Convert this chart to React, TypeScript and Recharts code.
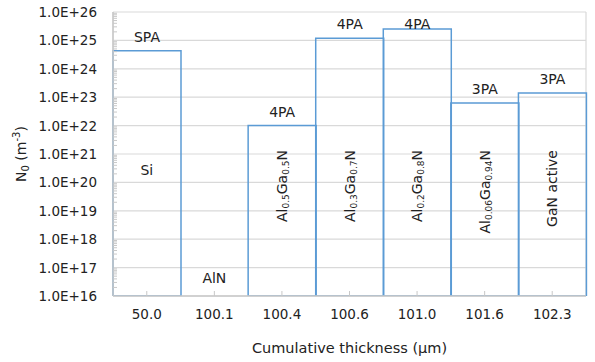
import React from 'react';
import { BarChart, Bar, XAxis, YAxis, CartesianGrid, LabelList, Label } from 'recharts';

// cumulative thickness of each layer (category labels), µm
const thickness = ['50.0', '100.1', '100.4', '100.6', '101.0', '101.6', '102.3'];
// N0 per layer, m^-3
const density = [4.3e24, 1e16, 1e22, 1.2e25, 2.5e25, 6.3e22, 1.4e23];
// process label above each bar
const process = ['SPA', '', '4PA', '4PA', '4PA', '3PA', '3PA'];
// layer name drawn inside each bar
const layer = ['Si', 'AlN', 'Al0.5Ga0.5N', 'Al0.3Ga0.7N', 'Al0.2Ga0.8N', 'Al0.06Ga0.94N', 'GaN active'];
const decades = [1e16, 1e17, 1e18, 1e19, 1e20, 1e21, 1e22, 1e23, 1e24, 1e25, 1e26];
const minorSteps = [2, 3, 4, 5, 6, 7, 8, 9];

const yTicks = [
  ...decades,
  ...decades.slice(0, -1).flatMap((d) => minorSteps.map((m) => d * m)),
].sort((a, b) => a - b);

const data = thickness.map((t, i) => ({
  thickness: t,
  density: density[i],
  process: process[i],
  layer: layer[i],
}));

const FONT = '"DejaVu Sans", sans-serif';
const TEXT = '#222';
const GRID = '#d9d9d9';
const AXIS = '#c8c8c8';
const BLUE = '#5B9BD5';
const X_TICK_MARGIN = 18;
const Y_TICK_MARGIN = 16;

const isDecade = (v: number) => Math.abs(Math.log10(v) - Math.round(Math.log10(v))) < 1e-9;

const renderYTick = (props: any) => {
  const { x, y, payload } = props;
  const v = Number(payload.value);
  const edge = Number(x) + Y_TICK_MARGIN;
  if (!isDecade(v)) {
    return <line x1={edge} x2={edge + 4} y1={y} y2={y} stroke={AXIS} strokeWidth={1} />;
  }
  return (
    <text x={x} y={y} textAnchor="end" dominantBaseline="central" fontSize={13.5} fontFamily={FONT} fill={TEXT}>
      {`1.0E+${Math.round(Math.log10(v))}`}
    </text>
  );
};

const renderXTick = (props: any) => {
  const { x, y, payload } = props;
  const axisY = Number(y) - X_TICK_MARGIN;
  return (
    <g>
      <line x1={x} x2={x} y1={axisY} y2={axisY - 5} stroke={AXIS} strokeWidth={1} />
      <text x={x} y={y} textAnchor="middle" dominantBaseline="central" fontSize={13.5} fontFamily={FONT} fill={TEXT}>
        {payload.value}
      </text>
    </g>
  );
};

const renderTopLabel = (props: any) => {
  const { x, y, width, value } = props;
  if (!value) return null;
  const cy = Math.max(Number(y) - 14, 24);
  return (
    <text x={Number(x) + Number(width) / 2} y={cy} textAnchor="middle" dominantBaseline="central"
      fontSize={14} fontFamily={FONT} fill={TEXT}>
      {value}
    </text>
  );
};

// layer names are drawn by a hidden top axis, so every category gets one
const renderLayerTick = (props: any) => {
  const { x, y, payload } = props;
  const name = String(payload.value);
  const index = layer.indexOf(name);
  const top = Number(y);

  if (name.length <= 3) {
    const ty = index === 0 ? top + 158 : top + 266;
    return (
      <text x={x} y={ty} textAnchor="middle" dominantBaseline="central" fontSize={14} fontFamily={FONT} fill={TEXT}>
        {name}
      </text>
    );
  }

  // subscripts are the decimal fractions, e.g. Al0.5Ga0.5N
  const parts = name.split(/(\d+\.\d+)/).filter((p) => p !== '');
  const ty = top + 138;
  let shifted = false;
  return (
    <text x={x} y={ty} transform={`rotate(-90 ${x} ${ty})`} textAnchor="end" dominantBaseline="central"
      fontSize={14} fontFamily={FONT} fill={TEXT}>
      {parts.map((p, i) => {
        const isSub = /^\d+\.\d+$/.test(p);
        let dy = 0;
        if (isSub && !shifted) { dy = 4; shifted = true; }
        else if (!isSub && shifted) { dy = -4; shifted = false; }
        return (
          <tspan key={i} dy={dy} fontSize={isSub ? 9 : 14}>{p}</tspan>
        );
      })}
    </text>
  );
};

const renderYLabel = (props: any) => {
  const vb = props.viewBox || {};
  const cx = 21;
  const cy = Number(vb.y) + Number(vb.height) / 2;
  return (
    <text x={cx} y={cy} transform={`rotate(-90 ${cx} ${cy})`} textAnchor="middle" dominantBaseline="central"
      fontSize={14} fontFamily={FONT} fill={TEXT}>
      N<tspan dy={4} fontSize={10}>0</tspan>
      <tspan dy={-4}> (m</tspan>
      <tspan dy={-5} fontSize={10}>-3</tspan>
      <tspan dy={5}>)</tspan>
    </text>
  );
};

const renderXLabel = (props: any) => {
  const vb = props.viewBox || {};
  return (
    <text x={Number(vb.x) + Number(vb.width) / 2} y={Number(vb.y) + 52} textAnchor="middle" dominantBaseline="central"
      fontSize={14.5} fontFamily={FONT} fill={TEXT}>
      Cumulative thickness (μm)
    </text>
  );
};

const App: React.FC = () => {
  return (
    <div style={{ position: 'absolute', left: 0, top: 0, width: 595, height: 362, background: '#fff' }}>
      <BarChart width={595} height={362} data={data} barCategoryGap={0} barGap={0}
        margin={{ top: 11, right: 9, bottom: 0, left: 0 }}>
        <CartesianGrid stroke={GRID} strokeWidth={1.2}
          horizontalCoordinatesGenerator={({ offset }: any) =>
            decades.map((_, i) => offset.top + (i * offset.height) / (decades.length - 1))}
          verticalCoordinatesGenerator={({ offset }: any) => [offset.left, offset.left + offset.width]} />
        <XAxis dataKey="thickness" height={66} tickLine={false} tickSize={0} tickMargin={X_TICK_MARGIN}
          axisLine={{ stroke: AXIS, strokeWidth: 1.5 }} tick={renderXTick} interval={0}>
          <Label content={renderXLabel} />
        </XAxis>
        <XAxis xAxisId="layer" dataKey="layer" orientation="top" height={1} tickLine={false} tickSize={0}
          tickMargin={0} axisLine={false} tick={renderLayerTick} interval={0} />
        <YAxis scale="log" type="number" domain={[1e16, 1e26]} allowDataOverflow ticks={yTicks} interval={0}
          width={113} tickLine={false} tickSize={0} tickMargin={Y_TICK_MARGIN}
          axisLine={{ stroke: AXIS, strokeWidth: 1.5 }} tick={renderYTick}>
          <Label content={renderYLabel} />
        </YAxis>
        {/* invisible twin of the bars so that the layer-name axis has a series */}
        <Bar xAxisId="layer" dataKey="density" fill="none" stroke="none" isAnimationActive={false} />
        <Bar dataKey="density" fill="none" stroke={BLUE} strokeWidth={1.5} isAnimationActive={false}>
          <LabelList dataKey="process" content={renderTopLabel} />
        </Bar>
      </BarChart>
    </div>
  );
};

export default App;
